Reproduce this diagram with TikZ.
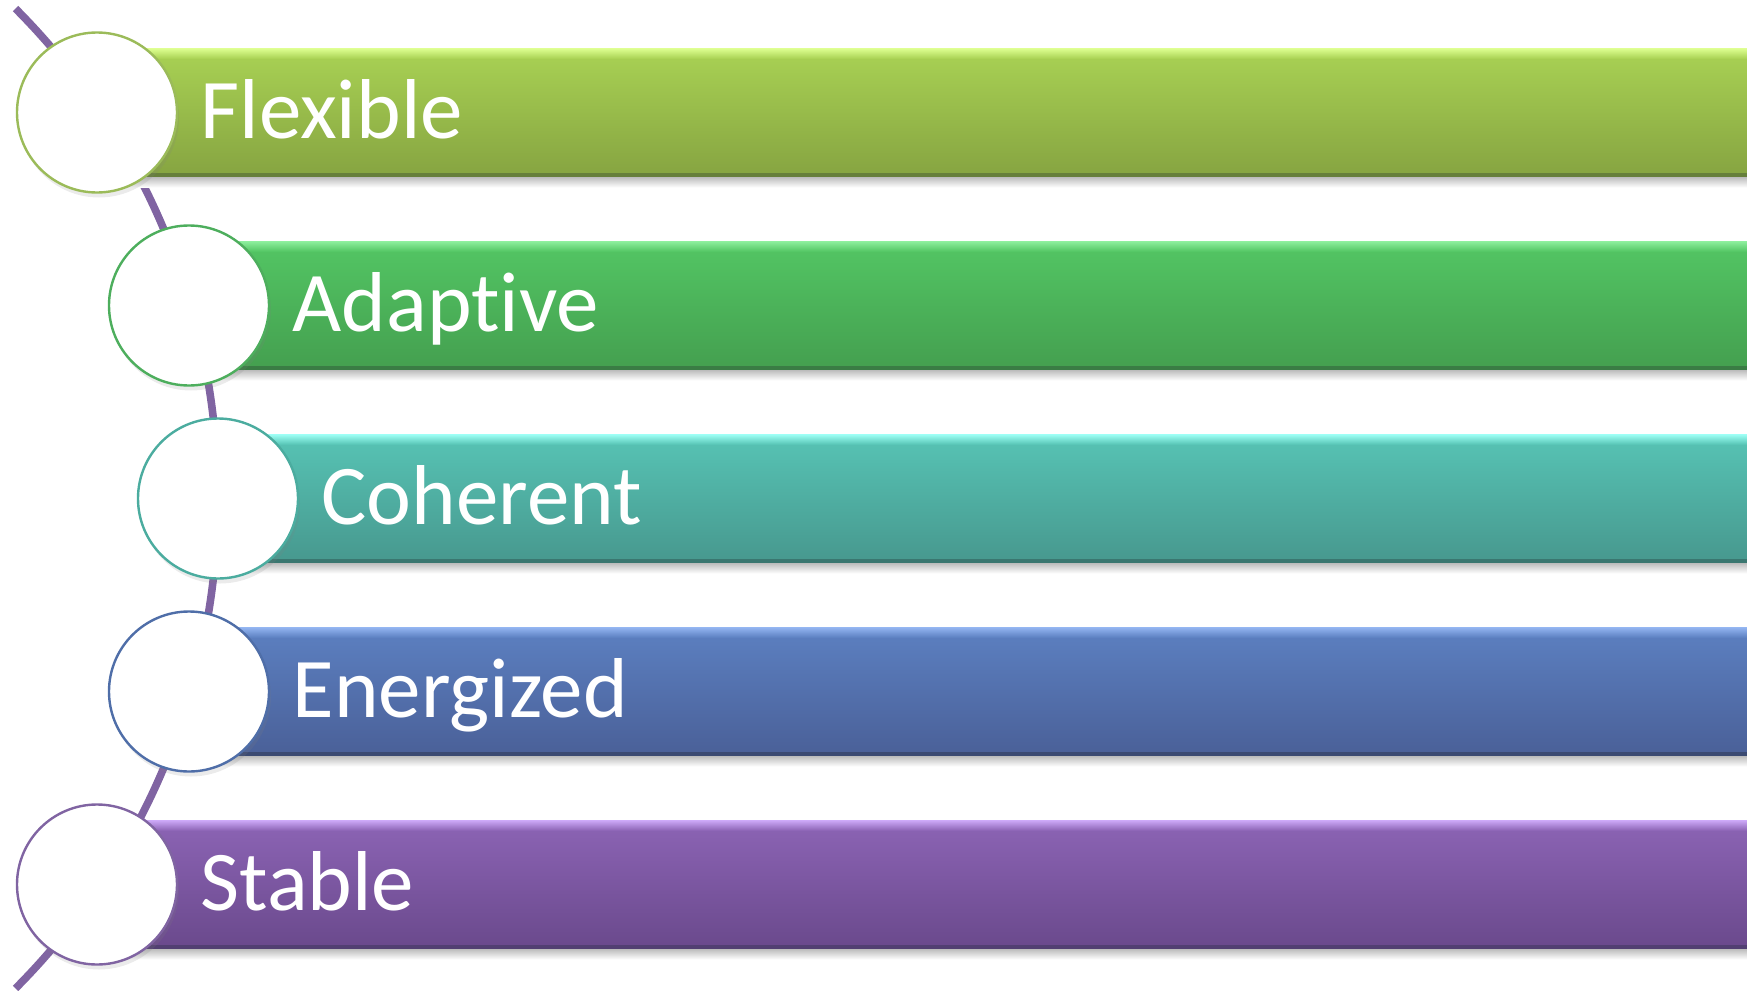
\documentclass[tikz,border=0pt]{standalone}
\usepackage{fontspec}
\setmainfont{Carlito}[Ligatures={NoCommon,NoRare}]
\usetikzlibrary{positioning,shadows}
% bar body (Top/Bot), bevel highlight (Hi), lower edge (Edge), disc rim (Rim)
\definecolor{flexTop}{HTML}{A9D254}
\definecolor{flexBot}{HTML}{86A441}
\definecolor{flexHi}{HTML}{DDFF90}
\definecolor{flexEdge}{HTML}{667F3B}
\definecolor{flexRim}{HTML}{9BBB59}
\definecolor{adaptTop}{HTML}{53C664}
\definecolor{adaptBot}{HTML}{449F4F}
\definecolor{adaptHi}{HTML}{8CEE9C}
\definecolor{adaptEdge}{HTML}{3A7C44}
\definecolor{adaptRim}{HTML}{4DAE5D}
\definecolor{cohTop}{HTML}{57C4B5}
\definecolor{cohBot}{HTML}{47988E}
\definecolor{cohHi}{HTML}{9CFFF4}
\definecolor{cohEdge}{HTML}{3A7770}
\definecolor{cohRim}{HTML}{4BAC9F}
\definecolor{enerTop}{HTML}{5C80C1}
\definecolor{enerBot}{HTML}{4A6098}
\definecolor{enerHi}{HTML}{92B4F0}
\definecolor{enerEdge}{HTML}{3B4A72}
\definecolor{enerRim}{HTML}{4F6EA8}
\definecolor{stabTop}{HTML}{8C64B5}
\definecolor{stabBot}{HTML}{6A498C}
\definecolor{stabHi}{HTML}{CBA7F6}
\definecolor{stabEdge}{HTML}{523F72}
\definecolor{stabRim}{HTML}{8064A2}
\definecolor{spineViolet}{HTML}{8064A2}

\begin{document}
\begin{tikzpicture}[x=0.5pt,y=-0.5pt,
      disc/.style={circle,draw=#1,line width=1.2pt,fill=white,minimum size=80pt,inner sep=0pt,
                   drop shadow={shadow xshift=1pt,shadow yshift=-2.5pt,opacity=0.16}},
      lbl/.style={anchor=base west,inner sep=0pt,text=white,font=\fontsize{42.5}{50}\selectfont},
      spine/.style={draw=spineViolet,line width=3.8pt}]
    \useasboundingbox (0,0) rectangle (1747,991);
    % curved spine behind the discs
    \draw[spine] (-476,498.5) ++(-44.9:694) arc[start angle=-44.9,end angle=44.9,radius=694];
    % the five bars
    \foreach \col/\x/\y in {flex/97/112.5,adapt/189/305.5,coh/218/498.5,ener/189/691.5,stab/97/884.5}{
      \shade[top color=black!30,bottom color=white] (\x,\y+63) rectangle (1750,\y+75);
      \shade[top color=\col Top,bottom color=\col Bot] (\x,\y-64) rectangle (1750,\y+64);
      \shade[top color=\col Hi,bottom color=\col Top] (\x,\y-64) rectangle (1750,\y-54);
      \fill[\col Edge] (\x,\y+60) rectangle (1750,\y+64);
    }
    % discs
    \node[disc=flexRim]  (c1) at (97,112.5) {};
    \node[disc=adaptRim] (c2) at (189,305.5) {};
    \node[disc=cohRim]   (c3) at (218,498.5) {};
    \node[disc=enerRim]  (c4) at (189,691.5) {};
    \node[disc=stabRim]  (c5) at (97,884.5) {};
    % labels
    \node[lbl] (t1) at ([xshift=11pt,yshift=-13pt]c1.east) {Flexible};
    \node[lbl] (t2) at ([xshift=11pt,yshift=-13pt]c2.east) {Adaptive};
    \node[lbl] (t3) at ([xshift=11pt,yshift=-13pt]c3.east) {Coherent};
    \node[lbl] (t4) at ([xshift=11pt,yshift=-13pt]c4.east) {Energized};
    \node[lbl] (t5) at ([xshift=11pt,yshift=-13pt]c5.east) {Stable};
  \end{tikzpicture}
\end{document}
